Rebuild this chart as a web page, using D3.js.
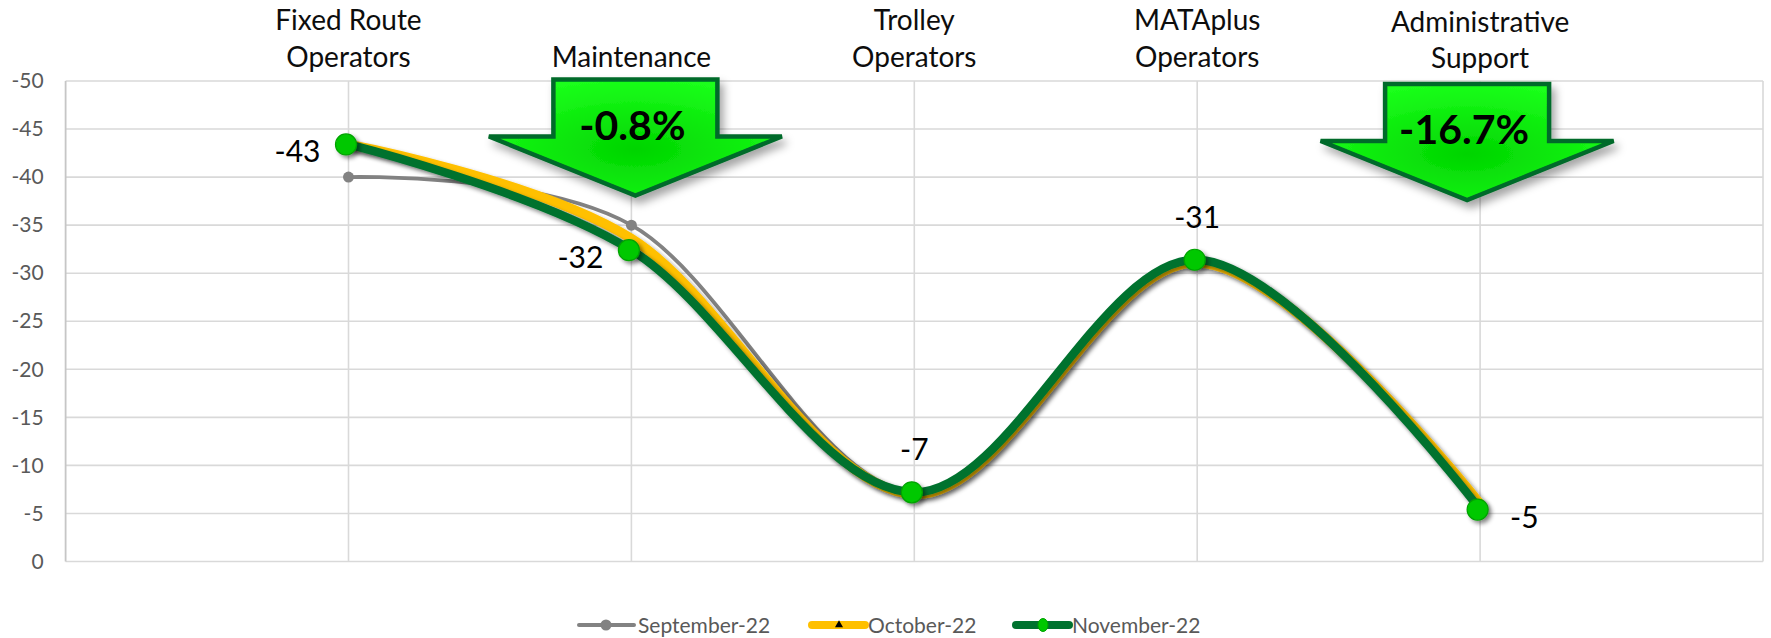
<!DOCTYPE html>
<html>
<head>
<meta charset="utf-8">
<script src="https://cdn.jsdelivr.net/npm/d3@7"></script>
<style>
  html, body { margin: 0; padding: 0; background: #ffffff; }
  svg { display: block; }
  text { font-family: Lato, "Open Sans", sans-serif; }
</style>
</head>
<body>
<svg id="chart" width="1771" height="638"></svg>
<script>
// ---------- data ----------
const categories = ["Fixed Route\nOperators", "Maintenance", "Trolley\nOperators", "MATAplus\nOperators", "Administrative\nSupport"];
const september22 = [-40, -35, -7.2, -31.3, -5.4];
const october22   = [-43.4, -33.6, -7.0, -31.1, -6.0];
const november22  = [-43.4, -32.4, -7.2, -31.4, -5.4];
const yTickValues = [0, -5, -10, -15, -20, -25, -30, -35, -40, -45, -50];
const seriesNames = ["September-22", "October-22", "November-22"];
const calloutCategories = ["Maintenance", "Administrative\nSupport"];
const calloutTexts = ["-0.8%", "-16.7%"];

// ---------- layout ----------
const W = 1771, H = 638;
const plot = { left: 65.6, right: 1763, top: 81, bottom: 561.5 };

const svg = d3.select("#chart");
const defs = svg.append("defs");

const lineShadow = defs.append("filter").attr("id", "lineShadow")
  .attr("x", "-10%").attr("y", "-10%").attr("width", "120%").attr("height", "130%");
lineShadow.append("feDropShadow").attr("dx", 3).attr("dy", 3).attr("stdDeviation", 2.2)
  .attr("flood-color", "#000").attr("flood-opacity", 0.45);

const arrowShadow = defs.append("filter").attr("id", "arrowShadow")
  .attr("x", "-20%").attr("y", "-20%").attr("width", "150%").attr("height", "160%");
arrowShadow.append("feDropShadow").attr("dx", 4).attr("dy", 6).attr("stdDeviation", 4.5)
  .attr("flood-color", "#000").attr("flood-opacity", 0.35);

const grad = defs.append("radialGradient").attr("id", "arrowFill")
  .attr("cx", "50%").attr("cy", "60%").attr("r", "60%");
grad.append("stop").attr("offset", "0%").attr("stop-color", "#00d400");
grad.append("stop").attr("offset", "100%").attr("stop-color", "#1aff1a");

const x = d3.scalePoint().domain(categories).range([plot.left, plot.right]).padding(1);
const y = d3.scaleLinear().domain([0, -50]).range([plot.bottom, plot.top]);

// ---------- grid ----------
const grid = svg.append("g");
grid.selectAll("line.h").data(yTickValues).join("line")
  .attr("x1", plot.left).attr("x2", plot.right)
  .attr("y1", d => y(d)).attr("y2", d => y(d))
  .attr("stroke", "#d9d9d9").attr("stroke-width", 1.6);
grid.selectAll("line.v").data(categories).join("line")
  .attr("x1", d => x(d)).attr("x2", d => x(d))
  .attr("y1", plot.top).attr("y2", plot.bottom)
  .attr("stroke", "#d9d9d9").attr("stroke-width", 1.6);
grid.append("line").attr("x1", plot.right).attr("x2", plot.right)
  .attr("y1", plot.top).attr("y2", plot.bottom).attr("stroke", "#d9d9d9").attr("stroke-width", 1.6);
grid.append("line").attr("x1", plot.left).attr("x2", plot.left)
  .attr("y1", plot.top).attr("y2", plot.bottom).attr("stroke", "#c6c6c6").attr("stroke-width", 1.8);

// ---------- y axis ----------
const yAxis = d3.axisLeft(y).tickValues(yTickValues).tickSize(0).tickPadding(22)
  .tickFormat(d => String(d));
const yg = svg.append("g").attr("transform", `translate(${plot.left},0)`).call(yAxis);
yg.select(".domain").remove();
yg.selectAll("text").attr("font-family", "Lato, sans-serif").attr("font-size", 21)
  .attr("fill", "#595959");

// ---------- category labels (top) ----------
const catG = svg.append("g");
categories.forEach((c, i) => {
  const lines = c.split("\n");
  const lastBase = i === categories.length - 1 ? 68 : 66.5;
  const t = catG.append("text").attr("text-anchor", "middle")
    .attr("font-size", 28).attr("fill", "#0d0d0d");
  lines.forEach((ln, j) => {
    t.append("tspan").attr("x", x(c))
      .attr("y", lastBase - (lines.length - 1 - j) * 36.5).text(ln);
  });
});

// ---------- callout arrows ----------
const arrowGeom = { shaftHalf: 82, headHalf: 146.5, wing: 57, tip: 116 };
const calloutTops = [79.5, 84];
const calloutDx = [4, -13];
calloutCategories.forEach((c, i) => {
  const cx = x(c) + calloutDx[i], top = calloutTops[i];
  const g = arrowGeom;
  const pts = [
    [cx - g.shaftHalf, top], [cx + g.shaftHalf, top], [cx + g.shaftHalf, top + g.wing],
    [cx + g.headHalf, top + g.wing], [cx, top + g.tip], [cx - g.headHalf, top + g.wing],
    [cx - g.shaftHalf, top + g.wing]
  ];
  svg.append("path").attr("d", d3.line()(pts) + "Z")
    .attr("fill", "url(#arrowFill)").attr("stroke", "#006b2a").attr("stroke-width", 4.5)
    .attr("stroke-linejoin", "miter").attr("filter", "url(#arrowShadow)");
  svg.append("text").attr("x", cx - 3).attr("y", top + 60).attr("text-anchor", "middle")
    .attr("font-size", 41).attr("font-weight", 700).attr("fill", "#000").text(calloutTexts[i]);
});

// ---------- series ----------
const curve = d3.curveCardinal.tension(0);
const lineGen = d3.line().x((d, i) => x(categories[i])).y(d => y(d)).curve(curve);

// September
svg.append("path").attr("d", lineGen(september22)).attr("fill", "none")
  .attr("stroke", "#828282").attr("stroke-width", 3.8).attr("stroke-linecap", "round");
svg.append("g").selectAll("circle").data(september22).join("circle")
  .attr("cx", (d, i) => x(categories[i])).attr("cy", d => y(d)).attr("r", 5.5)
  .attr("fill", "#828282");

// October
svg.append("path").attr("d", lineGen(october22)).attr("fill", "none")
  .attr("stroke", "#ffc000").attr("stroke-width", 9.5).attr("stroke-linecap", "round")
  .attr("filter", "url(#lineShadow)");

// November
svg.append("path").attr("d", lineGen(november22)).attr("fill", "none")
  .attr("stroke", "#00722f").attr("stroke-width", 8.5).attr("stroke-linecap", "round")
  .attr("filter", "url(#lineShadow)");
svg.append("g").attr("filter", "url(#lineShadow)").selectAll("circle").data(november22).join("circle")
  .attr("cx", (d, i) => x(categories[i]) - 2.5).attr("cy", d => y(d)).attr("r", 10.5)
  .attr("fill", "#00c800").attr("stroke", "#00a300").attr("stroke-width", 1.2);

// data labels for November
const labelPlacement = ["left", "left", "above", "above", "right"];
const fmt = d => String(Math.round(d));
svg.append("g").selectAll("text").data(november22).join("text")
  .attr("x", (d, i) => {
    const px = x(categories[i]);
    if (labelPlacement[i] === "left") return px - 28;
    if (labelPlacement[i] === "right") return px + 30;
    return px;
  })
  .attr("y", (d, i) => labelPlacement[i] === "above" ? y(d) - 32 : y(d) + 18)
  .attr("text-anchor", (d, i) => labelPlacement[i] === "left" ? "end" : (labelPlacement[i] === "right" ? "start" : "middle"))
  .attr("font-size", 30).attr("fill", "#000")
  .text(d => fmt(d));

// ---------- legend ----------
const legendY = 625;
const legendX = [579, 809, 1013];
const legend = svg.append("g");
seriesNames.forEach((name, i) => {
  const lx = legendX[i];
  const g = legend.append("g");
  if (i === 0) {
    g.append("line").attr("x1", lx).attr("x2", lx + 55).attr("y1", legendY).attr("y2", legendY)
      .attr("stroke", "#828282").attr("stroke-width", 4).attr("stroke-linecap", "round");
    g.append("circle").attr("cx", lx + 27).attr("cy", legendY).attr("r", 5.5).attr("fill", "#828282");
  } else if (i === 1) {
    g.append("line").attr("x1", lx + 3).attr("x2", lx + 56).attr("y1", legendY).attr("y2", legendY)
      .attr("stroke", "#ffc000").attr("stroke-width", 8).attr("stroke-linecap", "round");
    g.append("path").attr("d", d3.symbol(d3.symbolTriangle, 28)())
      .attr("transform", `translate(${lx + 30},${legendY})`).attr("fill", "#000");
  } else {
    g.append("line").attr("x1", lx + 3).attr("x2", lx + 56).attr("y1", legendY).attr("y2", legendY)
      .attr("stroke", "#00722f").attr("stroke-width", 8).attr("stroke-linecap", "round");
    g.append("ellipse").attr("cx", lx + 30).attr("cy", legendY).attr("rx", 5).attr("ry", 6.5)
      .attr("fill", "#00c800").attr("stroke", "#00a300").attr("stroke-width", 1);
  }
  g.append("text").attr("x", lx + 59).attr("y", legendY + 7.5)
    .attr("font-size", 21).attr("fill", "#595959").text(name);
});
</script>
</body>
</html>
